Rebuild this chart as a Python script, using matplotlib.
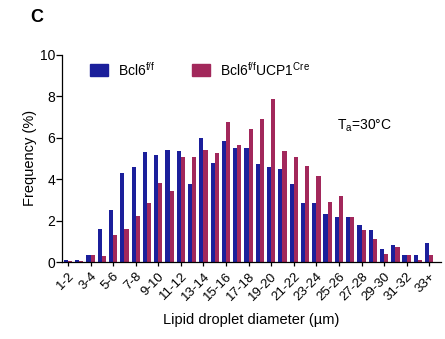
import numpy as np
import matplotlib
matplotlib.use('Agg')
import matplotlib.pyplot as plt

plt.rcParams['font.family'] = ['Liberation Sans', 'DejaVu Sans']
plt.rcParams['mathtext.fontset'] = 'custom'
plt.rcParams['mathtext.rm'] = 'Liberation Sans'
plt.rcParams['mathtext.it'] = 'Liberation Sans:italic'

# Size bins (µm)
categories = [f'{i}-{i + 1}' for i in range(1, 33)] + ['33+']

# Frequency (%) per bin
bcl6_ff = [0.1, 0.1, 0.35, 1.6, 2.5, 4.3, 4.6, 5.3, 5.15, 5.4,
           5.33, 3.76, 5.98, 4.76, 5.82, 5.5, 5.5, 4.73, 4.57, 4.49,
           3.76, 2.83, 2.83, 2.33, 2.18, 2.18, 1.77, 1.53, 0.63, 0.8,
           0.36, 0.36, 0.94]
bcl6_ucp1 = [0.05, 0.05, 0.35, 0.3, 1.3, 1.6, 2.2, 2.85, 3.8, 3.43,
             5.06, 5.06, 5.38, 5.25, 6.73, 5.66, 6.4, 6.9, 7.87, 5.33,
             5.06, 4.65, 4.16, 2.91, 3.19, 2.18, 1.53, 1.12, 0.37, 0.72,
             0.36, 0.1, 0.36]

blue = '#1b1f9b'
red = '#a2285b'

fig = plt.figure(figsize=(4.45, 3.39), dpi=100)
ax = fig.add_axes([0.14, 0.227, 0.85, 0.612])

x = np.arange(len(categories))
w = 0.37
ax.bar(x - w / 2, bcl6_ff, width=w, color=blue, linewidth=0)
ax.bar(x + w / 2, bcl6_ucp1, width=w, color=red, linewidth=0)

ax.set_xlim(-0.5, 33.0)
ax.set_ylim(0, 10)
ax.set_yticks([0, 2, 4, 6, 8, 10])
ax.set_xticks(x[::2])
ax.set_xticklabels(categories[::2], rotation=45, ha='right', rotation_mode='anchor',
                   fontsize=9.5)
ax.tick_params(axis='y', labelsize=10, length=4, width=0.9, pad=1)
ax.tick_params(axis='x', length=3, width=0.9, pad=3)
for s in ['top', 'right']:
    ax.spines[s].set_visible(False)
for s in ['left', 'bottom']:
    ax.spines[s].set_linewidth(0.9)

ax.set_ylabel('Frequency (%)', fontsize=10.5, labelpad=2)
ax.set_xlabel('Lipid droplet diameter (µm)', fontsize=10.5, labelpad=7)

# legend drawn as patches + text
fig.patches.append(plt.Rectangle((90 / 445, 1 - 76 / 339), 18 / 445, 12 / 339,
                                 transform=fig.transFigure, color=blue))
fig.text(118 / 445, 1 - 70 / 339, r'Bcl6$^{\mathrm{f/f}}$', fontsize=10, va='center')
fig.patches.append(plt.Rectangle((192 / 445, 1 - 76 / 339), 18 / 445, 12 / 339,
                                 transform=fig.transFigure, color=red))
fig.text(220 / 445, 1 - 70 / 339, r'Bcl6$^{\mathrm{f/f}}$UCP1$^{\mathrm{Cre}}$',
         fontsize=10, va='center')

fig.text(337 / 445, 1 - 126 / 339, r'T$_{\mathrm{a}}$=30°C', fontsize=10, va='center')
fig.text(30 / 445, 1 - 17 / 339, 'C', fontsize=13, fontweight='bold', va='center')

fig.savefig('out.png', dpi=100)
